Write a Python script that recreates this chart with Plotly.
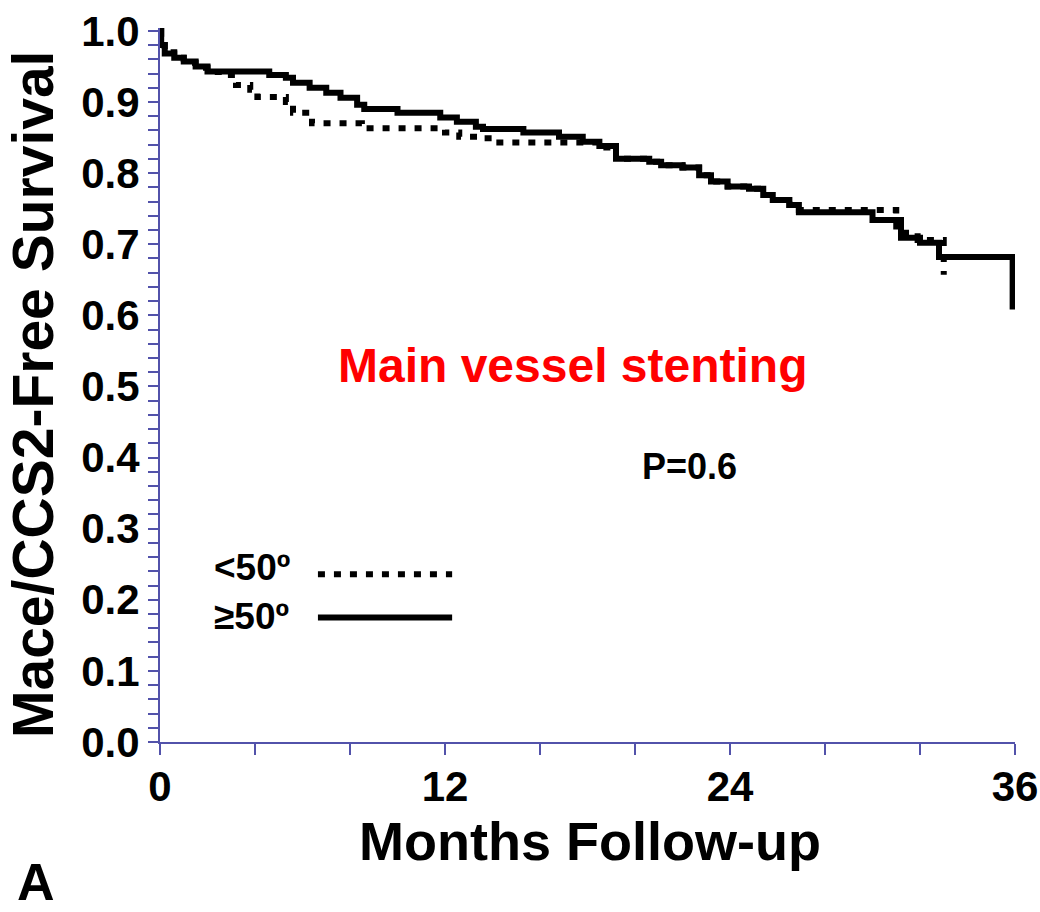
import plotly.graph_objects as go

# Kaplan-Meier step data (months, survival)
lt50_months = [0, 0.05, 0.2, 0.6, 1.0, 1.5, 2.0, 2.8, 3.2, 3.8, 4.1, 5.3, 5.6, 6.4, 8.5,
               12.0, 12.6, 13.4, 14.0, 18.5, 19.2, 20.6, 21.1, 22.0, 22.7, 23.2, 23.9,
               24.8, 25.4, 25.8, 26.5, 26.9, 31.0, 31.9, 33.0]
lt50_surv = [1.0, 0.98, 0.97, 0.962, 0.955, 0.948, 0.942, 0.938, 0.924, 0.917, 0.907, 0.900,
             0.885, 0.870, 0.863, 0.857, 0.851, 0.849, 0.843, 0.836, 0.820, 0.816, 0.811,
             0.808, 0.797, 0.788, 0.781, 0.778, 0.769, 0.762, 0.755, 0.748, 0.716, 0.706, 0.657]

ge50_months = [0, 0.05, 0.2, 0.6, 1.0, 1.5, 2.0, 4.6, 5.3, 5.6, 6.3, 7.0, 7.6, 8.3, 8.6, 10.0,
               11.8, 12.5, 13.3, 13.6, 15.3, 16.8, 17.8, 18.5, 19.2, 20.6, 21.1, 22.0, 22.7,
               23.2, 23.9, 24.8, 25.4, 25.8, 26.5, 26.9, 30.0, 31.2, 32.0, 32.8, 35.9]
ge50_surv = [1.0, 0.98, 0.968, 0.962, 0.957, 0.950, 0.943, 0.938, 0.934, 0.927, 0.920, 0.913,
             0.906, 0.896, 0.890, 0.885, 0.878, 0.872, 0.865, 0.862, 0.857, 0.851, 0.844,
             0.838, 0.820, 0.816, 0.811, 0.808, 0.797, 0.788, 0.781, 0.778, 0.769, 0.762,
             0.755, 0.745, 0.734, 0.709, 0.702, 0.682, 0.608]

x_tick_vals = [0, 12, 24, 36]
y_tick_vals = [0.0, 0.1, 0.2, 0.3, 0.4, 0.5, 0.6, 0.7, 0.8, 0.9, 1.0]

legend_labels = ["<50º", "≥50º"]
title_text = "Main vessel stenting"
p_text = "P=0.6"

AX = "#5252aa"
FONT = "Liberation Sans, Arial, sans-serif"

fig = go.Figure()
fig.add_trace(go.Scatter(x=lt50_months, y=lt50_surv, mode="lines", line_shape="hv",
                         line=dict(color="black", width=6, dash="7px,9px"),
                         showlegend=False, cliponaxis=False))
fig.add_trace(go.Scatter(x=ge50_months, y=ge50_surv, mode="lines", line_shape="hv",
                         line=dict(color="black", width=6),
                         showlegend=False, cliponaxis=False))

fig.update_layout(
    width=1040, height=912,
    margin=dict(l=160, r=25, t=28, b=170),
    paper_bgcolor="white", plot_bgcolor="white",
    font=dict(family=FONT, color="black"),
    xaxis=dict(range=[0, 36], tickvals=x_tick_vals, ticks="outside", ticklen=11,
               tickwidth=2, tickcolor=AX, showline=True, linecolor=AX, linewidth=2,
               showgrid=False, zeroline=False, automargin=False, ticklabelstandoff=-4,
               tickfont=dict(family=FONT, size=42, weight="bold", color="black"),
               minor=dict(dtick=4, tick0=0, ticks="outside", ticklen=11, tickwidth=2,
                          tickcolor=AX, showgrid=False)),
    yaxis=dict(range=[0, 1.004], tickvals=y_tick_vals, tickformat=".1f", ticks="outside",
               ticklen=10, tickwidth=2, tickcolor=AX, showline=True, linecolor=AX,
               linewidth=2, showgrid=False, zeroline=False, automargin=False,
               tickfont=dict(family=FONT, size=42, weight="bold", color="black"),
               minor=dict(dtick=0.02, tick0=0, ticks="outside", ticklen=10, tickwidth=2,
                          tickcolor=AX, showgrid=False)),
)

ann = []
ann.append(dict(text="Mace/CCS2-Free Survival", textangle=-90, xref="paper", yref="paper",
                x=-0.1485, y=0.486, xanchor="center", yanchor="middle", showarrow=False,
                font=dict(family=FONT, size=57, weight="bold", color="black")))
ann.append(dict(text="Months Follow-up", xref="paper", yref="paper", x=0.503, y=-0.094,
                xanchor="center", yanchor="top", showarrow=False,
                font=dict(family=FONT, size=54, weight="bold", color="black")))
ann.append(dict(text="A", xref="paper", yref="paper", x=-0.1696, y=-0.152,
                xanchor="left", yanchor="top", showarrow=False,
                font=dict(family=FONT, size=52, weight="bold", color="black")))
ann.append(dict(text=title_text, xref="x", yref="y", x=17.35, y=0.530,
                xanchor="center", yanchor="middle", showarrow=False,
                font=dict(family=FONT, size=48, weight="bold", color="#ff0000")))
ann.append(dict(text=p_text, xref="x", yref="y", x=22.3, y=0.387,
                xanchor="center", yanchor="middle", showarrow=False,
                font=dict(family=FONT, size=36, weight="bold", color="black")))
ann.append(dict(text=legend_labels[0], xref="x", yref="y", x=2.19, y=0.246,
                xanchor="left", yanchor="middle", showarrow=False,
                font=dict(family=FONT, size=37, weight="bold", color="black")))
ann.append(dict(text=legend_labels[1], xref="x", yref="y", x=2.19, y=0.177,
                xanchor="left", yanchor="middle", showarrow=False,
                font=dict(family=FONT, size=37, weight="bold", color="black")))
fig.update_layout(annotations=ann)

fig.add_shape(type="line", xref="x", yref="y", x0=6.65, x1=12.3, y0=0.236, y1=0.236,
              line=dict(color="black", width=6, dash="7px,9px"))
fig.add_shape(type="line", xref="x", yref="y", x0=6.65, x1=12.3, y0=0.175, y1=0.175,
              line=dict(color="black", width=6))

fig.write_html("out.html")
